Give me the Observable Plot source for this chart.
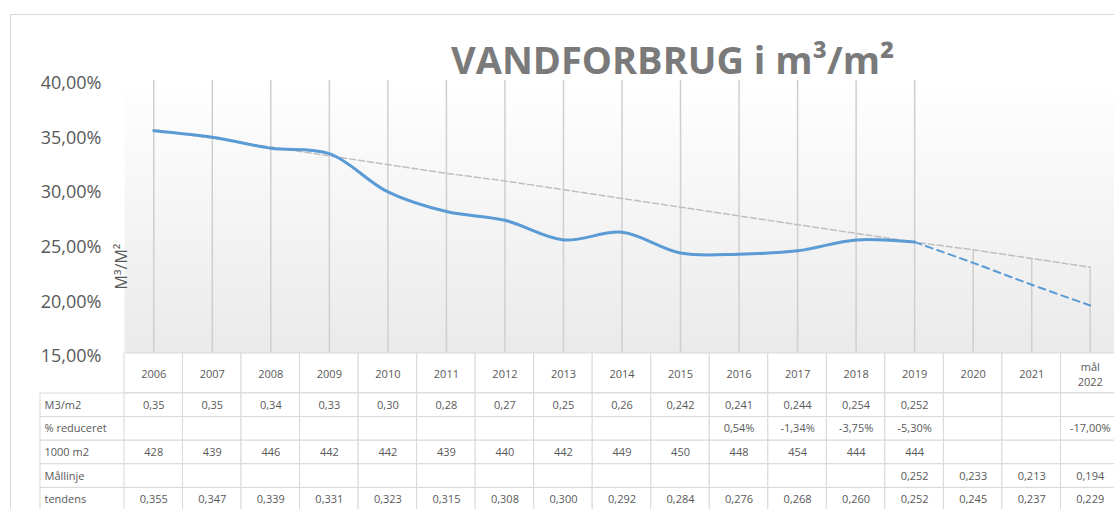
<!DOCTYPE html>
<html>
<head>
<meta charset="utf-8">
<script src="https://cdn.jsdelivr.net/npm/d3@7"></script>
<script src="https://cdn.jsdelivr.net/npm/@observablehq/plot@0.6"></script>
<style>
  html, body { margin: 0; padding: 0; background: #fff; overflow: hidden; }
  #wrap { position: relative; width: 1114px; height: 509px; overflow: hidden; font-family: "Open Sans", sans-serif; }
  #border { position: absolute; left: 10px; top: 14px; width: 1300px; height: 700px; border-left: 1.5px solid #d9d9d9; border-top: 1.5px solid #d9d9d9; box-sizing: border-box; }
  #title { position: absolute; left: 451px; top: 33px; font-size: 38px; font-weight: 700; color: #7a7a7a; white-space: nowrap; font-family: "Open Sans", sans-serif; }
  .abs { position: absolute; left: 0; max-width: none !important; }
  svg { overflow: visible; }
</style>
</head>
<body>
<div id="wrap">
  <div id="border"></div>
  <div id="title">VANDFORBRUG i m³/m²</div>
</div>
<script>
// ---- data ----
const years = ["2006","2007","2008","2009","2010","2011","2012","2013","2014","2015","2016","2017","2018","2019","2020","2021","mål 2022"];
const m3PerM2 = [0.354, 0.348, 0.338, 0.333, 0.298, 0.280, 0.272, 0.254, 0.261, 0.242, 0.241, 0.244, 0.254, 0.252];
const m3Decimals = [2,2,2,2,2,2,2,2,2,3,3,3,3,3];
const reduceretPct = [null,null,null,null,null,null,null,null,null,null, 0.54, -1.34, -3.75, -5.30, null, null, -17.00];
const area1000 = [428, 439, 446, 442, 442, 439, 440, 442, 449, 450, 448, 454, 444, 444];
const maallinje = [null,null,null,null,null,null,null,null,null,null,null,null,null, 0.252, 0.233, 0.213, 0.194];
const tendens = [0.355, 0.347, 0.339, 0.331, 0.323, 0.315, 0.308, 0.300, 0.292, 0.284, 0.276, 0.268, 0.260, 0.252, 0.245, 0.237, 0.229];
const yTicks = [0.15, 0.20, 0.25, 0.30, 0.35, 0.40];
const rowNames = ["M3/m2", "% reduceret", "1000 m2", "Mållinje", "tendens"];
const yLabel = "M³/M²";

// ---- helpers ----
const W = 1119;
const yMin = 0.15, yMax = 0.40;
const comma = s => s.replace(".", ",");
const fmtPct = v => comma((v * 100).toFixed(2)) + "%";
const gridColor = "#d9d9d9";
const textColor = "#595959";
const blue = "#5b9bd5";
const xScale = { type: "band", domain: years, padding: 0, round: false, axis: null };

const series = years.map((year, i) => ({
  year,
  m3: m3PerM2[i] ?? null,
  maal: maallinje[i] ?? null,
  tend: tendens[i] ?? null,
  area: area1000[i] ?? null
}));
const drops = series.map(d => ({
  year: d.year,
  top: Math.min(yMax, d3.max([d.m3, d.maal, d.tend, d.area].filter(v => v != null)))
}));

// ---- chart ----
const chart = Plot.plot({
  width: W, height: 509,
  marginLeft: 124, marginRight: 0, marginTop: 80, marginBottom: 156,
  style: { fontFamily: "Open Sans", background: "transparent", overflow: "visible" },
  x: xScale,
  y: { domain: [yMin, yMax], axis: null },
  marks: [
    Plot.frame({ fill: "#f5f5f5", stroke: "none" }),
    Plot.ruleX(drops, { x: "year", y1: yMin, y2: "top", stroke: "#cfcfcf", strokeWidth: 1.5 }),
    Plot.line(series, { x: "year", y: "tend", stroke: "#bfbfbf", strokeWidth: 1.5, strokeDasharray: "6,3" }),
    Plot.line(series.filter(d => d.maal != null), { x: "year", y: "maal", stroke: blue, strokeWidth: 2, strokeDasharray: "7,5", curve: "catmull-rom" }),
    Plot.line(series.filter(d => d.m3 != null), { x: "year", y: "m3", stroke: blue, strokeWidth: 3, curve: "catmull-rom" }),
    Plot.text(yTicks, { y: d => d, text: fmtPct, frameAnchor: "left", textAnchor: "end", dx: -23, dy: 3, fontSize: 18, fill: textColor }),
    Plot.text([yLabel], { text: d => d, frameAnchor: "bottom-left", textAnchor: "middle", lineAnchor: "middle", rotate: -90, dx: -3, dy: -87, fontSize: 16, fill: textColor })
  ]
});
chart.classList.add("abs");
chart.style.top = "0px";
{
  const svg = d3.select(chart);
  const defs = svg.insert("defs", ":first-child");
  const g = defs.append("linearGradient").attr("id", "plotBg").attr("x1", 0).attr("y1", 0).attr("x2", 0).attr("y2", 1);
  g.append("stop").attr("offset", "0%").attr("stop-color", "#ffffff");
  g.append("stop").attr("offset", "100%").attr("stop-color", "#eaeaea");
  svg.selectAll('[aria-label="frame"]').each(function () {
    const el = this.tagName.toLowerCase() === "rect" ? this : this.querySelector("rect");
    if (el) el.setAttribute("fill", "url(#plotBg)");
  });
}
document.getElementById("wrap").appendChild(chart);

// ---- table header ----
const header = Plot.plot({
  width: W, height: 40,
  marginLeft: 124, marginRight: 0, marginTop: 0, marginBottom: 0,
  style: { fontFamily: "Open Sans", background: "transparent", overflow: "visible" },
  x: xScale,
  marks: [
    Plot.cell(years, { x: d => d, fill: "white", stroke: gridColor }),
    Plot.text(years, { x: d => d, text: d => d.replace(" ", "\n"), fontSize: 11, fill: textColor, lineHeight: 1.35 })
  ]
});
header.classList.add("abs");
header.style.top = "353px";
document.getElementById("wrap").appendChild(header);

// ---- table body ----
const rowTexts = [
  years.map((_, i) => m3PerM2[i] != null ? comma(m3PerM2[i].toFixed(m3Decimals[i])) : ""),
  years.map((_, i) => reduceretPct[i] != null ? comma(reduceretPct[i].toFixed(2)) + "%" : ""),
  years.map((_, i) => area1000[i] != null ? String(area1000[i]) : ""),
  years.map((_, i) => maallinje[i] != null ? comma(maallinje[i].toFixed(3)) : ""),
  years.map((_, i) => tendens[i] != null ? comma(tendens[i].toFixed(3)) : "")
];
const cells = [];
rowNames.forEach((row, r) => years.forEach((year, i) => cells.push({ row, year, text: rowTexts[r][i] })));

const body = Plot.plot({
  width: W, height: 118,
  marginLeft: 124, marginRight: 0, marginTop: 0, marginBottom: 0,
  style: { fontFamily: "Open Sans", background: "transparent", overflow: "visible" },
  x: xScale,
  y: { type: "band", domain: rowNames, padding: 0, round: false, axis: null },
  marks: [
    Plot.cell(rowNames, { y: d => d, insetLeft: -84, fill: "white", stroke: gridColor }),
    Plot.cell(cells, { x: "year", y: "row", fill: "white", stroke: gridColor }),
    Plot.text(cells, { x: "year", y: "row", text: "text", fontSize: 11, fill: textColor }),
    Plot.text(rowNames, { y: d => d, text: d => d, frameAnchor: "left", textAnchor: "start", dx: -80, fontSize: 11, fill: textColor })
  ]
});
body.classList.add("abs");
body.style.top = "393px";
document.getElementById("wrap").appendChild(body);
</script>
</body>
</html>
